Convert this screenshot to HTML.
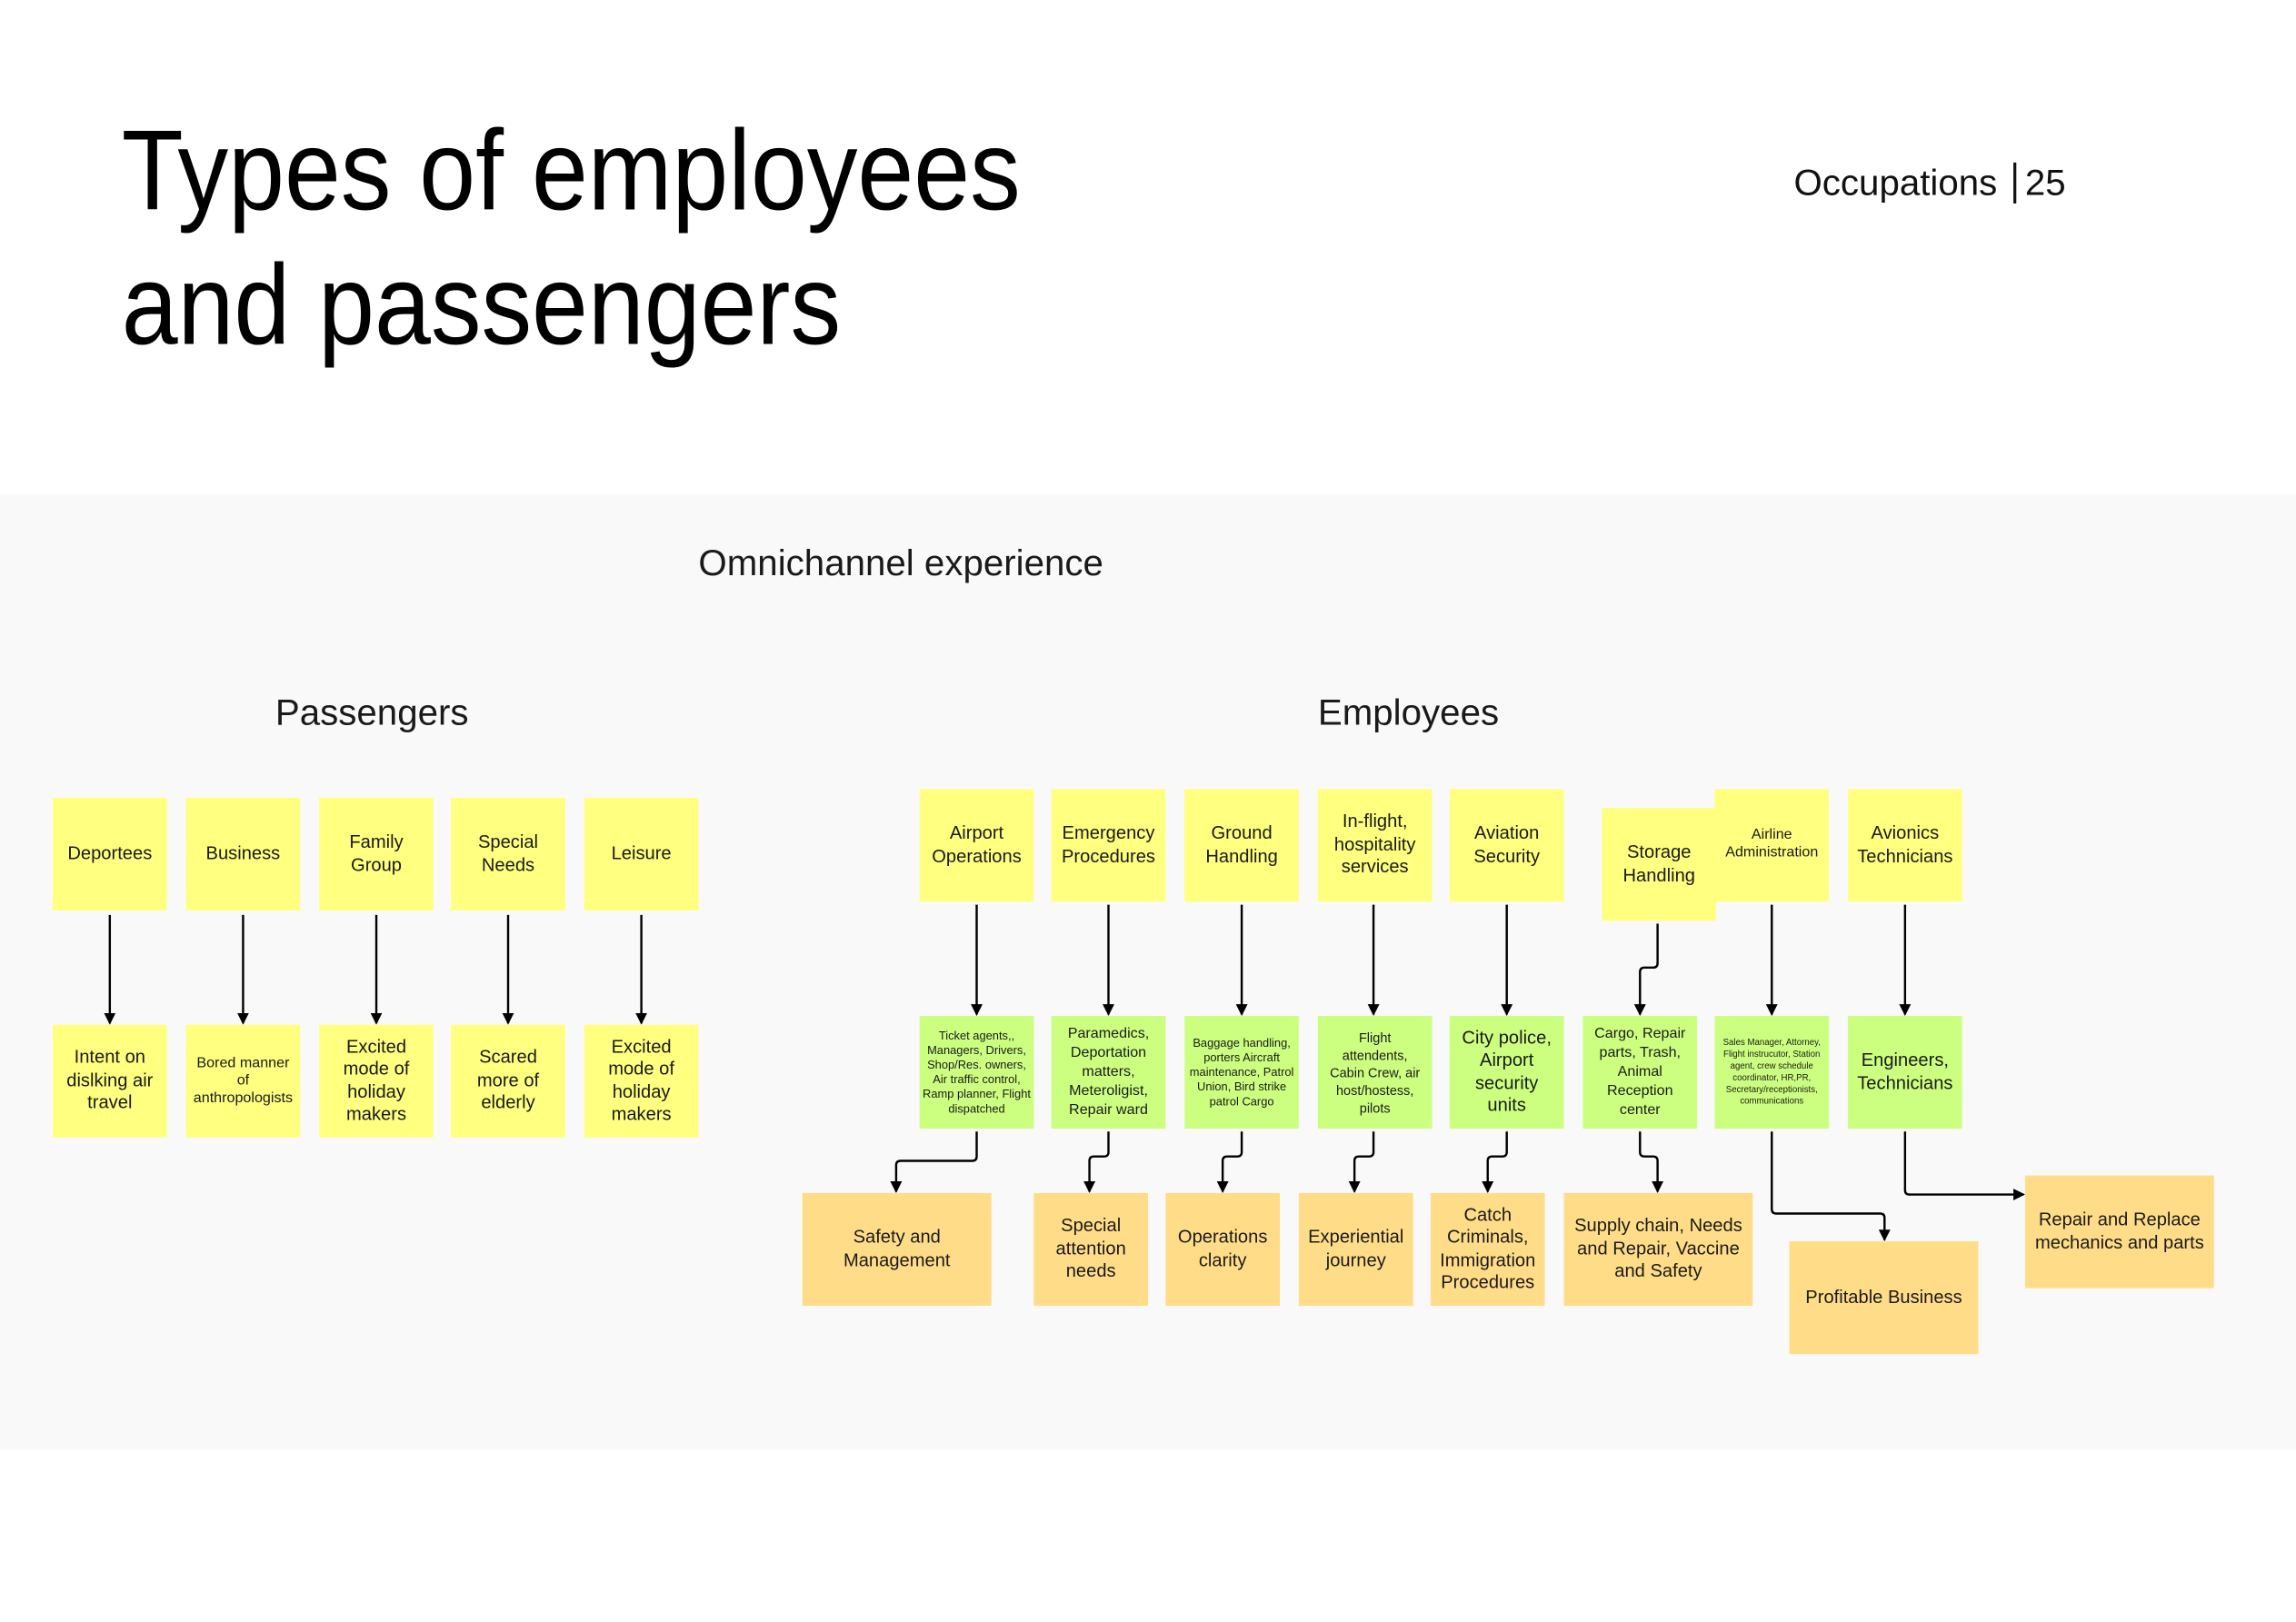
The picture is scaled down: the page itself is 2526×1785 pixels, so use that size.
<!DOCTYPE html>
<html><head><meta charset="utf-8"><style>
html,body{margin:0;padding:0;width:2526px;height:1785px;overflow:hidden;background:#fff}
#w{position:absolute;left:0;top:0;width:1568px;height:1108px;transform:scale(1.61097);transform-origin:0 0;font-family:"Liberation Sans",sans-serif;color:#1a1a1a}
.band{position:absolute;left:0;top:338px;width:1568px;height:652px;background:#f9f9f9}
.t{position:absolute;white-space:nowrap}
.b{position:absolute;width:78px;height:77px;display:flex;align-items:center;justify-content:center;text-align:center;font-size:12.5px;line-height:15.5px;box-sizing:border-box;padding:2px 4px}
.y{background:#ffff80}.g{background:#ccff80}.o{background:#ffdd88}
.s{font-size:8px;line-height:10px;padding:2px}
.xs{font-size:6px;line-height:8px;padding:2px 5px}
.m{font-size:10px;line-height:12px}
</style></head><body><div id="w">
<div class="t" style="left:83px;top:70px;font-size:78px;line-height:92px;transform:scaleX(0.885);transform-origin:0 0;color:#000">Types of employees<br>and passengers</div>
<div class="t" style="left:1225px;top:111px;font-size:25px;color:#111">Occupations <span style="border-left:2px solid #111;margin:0 6px 0 4px"></span> 25</div>
<div class="band"></div>
<div class="t" style="left:477px;top:371px;font-size:25px">Omnichannel experience</div>
<div class="t" style="left:188px;top:473px;font-size:25px">Passengers</div>
<div class="t" style="left:900px;top:473px;font-size:25px">Employees</div>

<div class="b y" style="left:36px;top:545px">Deportees</div>
<div class="b y" style="left:127px;top:545px">Business</div>
<div class="b y" style="left:218px;top:545px">Family<br>Group</div>
<div class="b y" style="left:308px;top:545px">Special<br>Needs</div>
<div class="b y" style="left:399px;top:545px">Leisure</div>
<div class="b y" style="left:36px;top:700px">Intent on dislking air travel</div>
<div class="b y m" style="left:127px;top:700px;padding:2px">Bored manner of anthropologists</div>
<div class="b y" style="left:218px;top:700px">Excited mode of holiday makers</div>
<div class="b y" style="left:308px;top:700px;padding:2px 10px">Scared more of elderly</div>
<div class="b y" style="left:399px;top:700px">Excited mode of holiday makers</div>

<div class="b y" style="left:628px;top:539px">Airport Operations</div>
<div class="b y" style="left:718px;top:539px;padding:2px">Emergency Procedures</div>
<div class="b y" style="left:809px;top:539px">Ground Handling</div>
<div class="b y" style="left:900px;top:539px">In-flight, hospitality services</div>
<div class="b y" style="left:990px;top:539px">Aviation Security</div>
<div class="b y" style="left:1094px;top:552px">Storage Handling</div>
<div class="b y m" style="left:1171px;top:539px;align-items:flex-start;padding:26px 2px 2px">Airline Administration</div>
<div class="b y" style="left:1262px;top:539px">Avionics Technicians</div>

<div class="b g s" style="left:628px;top:694px">Ticket agents,, Managers, Drivers, Shop/Res. owners, Air traffic control, Ramp planner, Flight dispatched</div>
<div class="b g m" style="left:718px;top:694px;line-height:13px">Paramedics, Deportation matters, Meteroligist, Repair ward</div>
<div class="b g s" style="left:809px;top:694px">Baggage handling, porters Aircraft maintenance, Patrol Union, Bird strike patrol Cargo</div>
<div class="b g s" style="left:900px;top:694px;font-size:9px;line-height:12px;padding:2px 6px">Flight attendents, Cabin Crew, air host/hostess, pilots</div>
<div class="b g" style="left:990px;top:694px;padding:2px 8px">City police, Airport security units</div>
<div class="b g m" style="left:1081px;top:694px;line-height:13px">Cargo, Repair parts, Trash, Animal Reception center</div>
<div class="b g xs" style="left:1171px;top:694px">Sales Manager, Attorney, Flight instrucutor, Station agent, crew schedule coordinator, HR,PR, Secretary/receptionists, communications</div>
<div class="b g" style="left:1262px;top:694px">Engineers, Technicians</div>

<div class="b o" style="left:548px;top:815px;width:129px">Safety and Management</div>
<div class="b o" style="left:706px;top:815px">Special attention needs</div>
<div class="b o" style="left:796px;top:815px">Operations clarity</div>
<div class="b o" style="left:887px;top:815px;padding:2px">Experiential journey</div>
<div class="b o" style="left:977px;top:815px;padding:2px">Catch Criminals, Immigration Procedures</div>
<div class="b o" style="left:1068px;top:815px;width:129px">Supply chain, Needs and Repair, Vaccine and Safety</div>
<div class="b o" style="left:1222px;top:848px;width:129px">Profitable Business</div>
<div class="b o" style="left:1383px;top:803px;width:129px">Repair and Replace mechanics and parts</div>

<svg width="1568" height="1108" style="position:absolute;left:0;top:0" fill="none" stroke="#000" stroke-width="1.5">
<defs><marker id="a" markerWidth="8" markerHeight="8" refX="7" refY="4" orient="auto" markerUnits="userSpaceOnUse"><path d="M0,0L8,4L0,8z" fill="#000" stroke="none"/></marker></defs>
<g marker-end="url(#a)">
<path d="M75 625V699"/><path d="M166 625V699"/><path d="M257 625V699"/><path d="M347 625V699"/><path d="M438 625V699"/>
<path d="M667 618V693"/><path d="M757 618V693"/><path d="M848 618V693"/><path d="M938 618V693"/><path d="M1029 618V693"/>
<path d="M1210 618V693"/><path d="M1301 618V693"/>
<path d="M1132 631V658Q1132 661 1129 661H1123Q1120 661 1120 664V693"/>
<path d="M667 773V790Q667 793 664 793H615Q612 793 612 796V814"/>
<path d="M757 773V787Q757 790 754 790H747Q744 790 744 793V814"/>
<path d="M848 773V787Q848 790 845 790H838Q835 790 835 793V814"/>
<path d="M938 773V787Q938 790 935 790H928Q925 790 925 793V814"/>
<path d="M1029 773V787Q1029 790 1026 790H1019Q1016 790 1016 793V814"/>
<path d="M1120 773V787Q1120 790 1123 790H1129Q1132 790 1132 793V814"/>
<path d="M1210 773V826Q1210 829 1213 829H1284Q1287 829 1287 832V847"/>
<path d="M1301 773V813Q1301 816 1304 816H1382"/>
</g></svg>
</div></body></html>
